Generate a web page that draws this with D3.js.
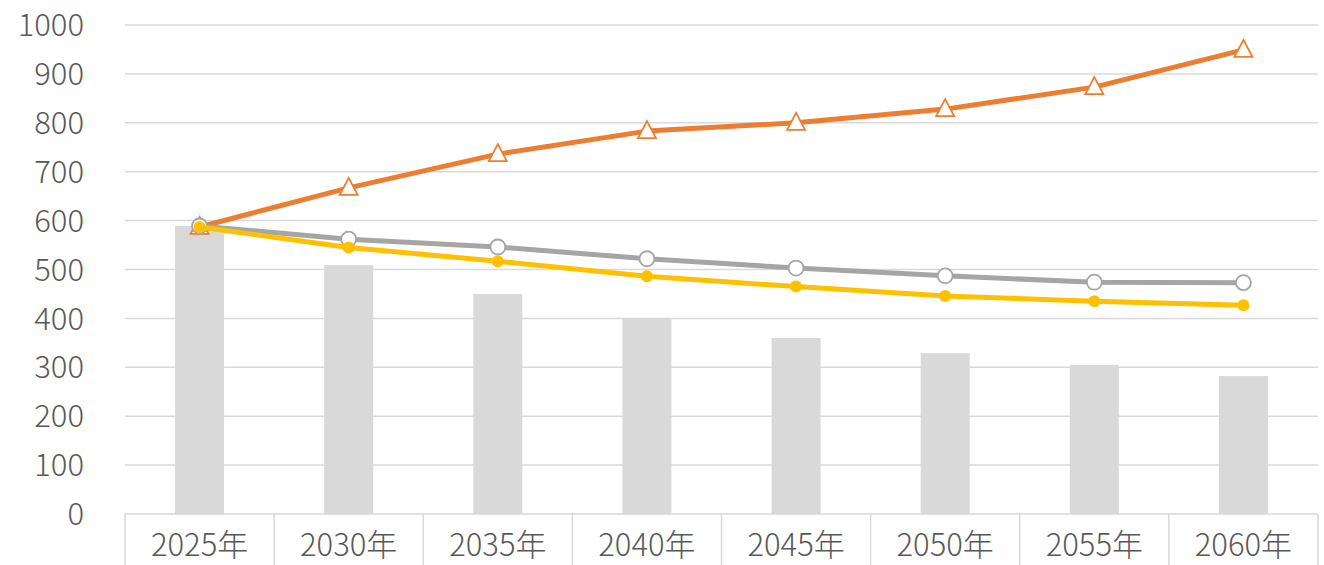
<!DOCTYPE html>
<meta charset="utf-8">
<style>
body { margin: 0; background: #fff; }
text { font-family: "Noto Sans CJK JP", "Noto Sans", sans-serif; fill: #595959; font-weight: 300; }
</style>
<body>
<script src="https://d3js.org/d3.v7.min.js"></script>
<script>
// chart data
var years = ["2025年", "2030年", "2035年", "2040年", "2045年", "2050年", "2055年", "2060年"];
var barValues = [589, 509, 450, 401, 360, 329, 305, 282];
var orangeValues = [587, 667, 736, 783, 800, 828, 873, 949];
var grayValues = [589, 562, 546, 522, 503, 487, 474, 473];
var yellowValues = [587, 545, 517, 486, 465, 446, 435, 427];
var yTicks = [0, 100, 200, 300, 400, 500, 600, 700, 800, 900, 1000];

var W = 1324, H = 565;
var margin = {top: 25, right: 6, bottom: 51, left: 125};
var width = W - margin.left - margin.right,
    height = H - margin.top - margin.bottom;

var svg = d3.select("body").append("svg")
    .attr("width", W)
    .attr("height", H);

var g = svg.append("g")
    .attr("transform", "translate(" + margin.left + "," + margin.top + ")");

var x = d3.scaleBand().domain(years).range([0, width]);
var y = d3.scaleLinear().domain([0, 1000]).range([height, 0]);

// gridlines
g.selectAll(".grid")
  .data(yTicks.slice(1))
  .enter().append("line")
    .attr("x1", 0).attr("x2", width)
    .attr("y1", function(d) { return y(d); })
    .attr("y2", function(d) { return y(d); })
    .attr("stroke", "#d9d9d9")
    .attr("stroke-width", 1.5);

// y labels
g.selectAll(".ylab")
  .data(yTicks)
  .enter().append("text")
    .attr("x", -41)
    .attr("y", function(d) { return y(d); })
    .attr("dy", "0.36em")
    .attr("text-anchor", "end")
    .style("font-size", "31px")
    .text(function(d) { return d; });

// bars
var barW = 49;
g.selectAll(".bar")
  .data(barValues)
  .enter().append("rect")
    .attr("x", function(d, i) { return x(years[i]) + x.bandwidth() / 2 - barW / 2; })
    .attr("width", barW)
    .attr("y", function(d) { return y(d); })
    .attr("height", function(d) { return height - y(d); })
    .attr("fill", "#d9d9d9");

// x axis
var xAxis = g.append("g").attr("transform", "translate(0," + height + ")");
xAxis.append("line")
    .attr("x1", 0).attr("x2", width)
    .attr("stroke", "#d9d9d9").attr("stroke-width", 1.5);
xAxis.selectAll(".tick")
  .data(d3.range(years.length + 1))
  .enter().append("line")
    .attr("x1", function(i) { return i * x.step(); })
    .attr("x2", function(i) { return i * x.step(); })
    .attr("y1", 0).attr("y2", margin.bottom)
    .attr("stroke", "#d9d9d9").attr("stroke-width", 1.5);
xAxis.selectAll(".xlab")
  .data(years)
  .enter().append("text")
    .attr("x", function(d) { return x(d) + x.bandwidth() / 2; })
    .attr("y", 31)
    .attr("dy", "0.36em")
    .attr("text-anchor", "middle")
    .style("font-size", "31px")
    .text(function(d) { return d; });

var cx = function(d, i) { return x(years[i]) + x.bandwidth() / 2; };
var line = d3.line().x(cx).y(function(d) { return y(d); });

function drawLine(vals, color) {
  g.append("path")
    .datum(vals)
    .attr("d", line)
    .attr("fill", "none")
    .attr("stroke", color)
    .attr("stroke-width", 5)
    .attr("stroke-linejoin", "round")
    .attr("stroke-linecap", "round");
}

// orange line with triangles
drawLine(orangeValues, "#ed7d31");
g.selectAll(".tri")
  .data(orangeValues)
  .enter().append("path")
    .attr("transform", function(d, i) { return "translate(" + cx(d, i) + "," + y(d) + ")"; })
    .attr("d", "M0,-10L9,7L-9,7Z")
    .attr("fill", "#fff")
    .attr("stroke", "#ed7d31")
    .attr("stroke-width", 1.8);

// gray line with open circles
drawLine(grayValues, "#a5a5a5");
g.selectAll(".gc")
  .data(grayValues)
  .enter().append("circle")
    .attr("cx", cx)
    .attr("cy", function(d) { return y(d); })
    .attr("r", 7.5)
    .attr("fill", "#fff")
    .attr("stroke", "#a5a5a5")
    .attr("stroke-width", 1.8);

// yellow line with filled circles
drawLine(yellowValues, "#ffc000");
g.selectAll(".yc")
  .data(yellowValues)
  .enter().append("circle")
    .attr("cx", cx)
    .attr("cy", function(d) { return y(d); })
    .attr("r", 6)
    .attr("fill", "#ffc000");
</script>
</body>
